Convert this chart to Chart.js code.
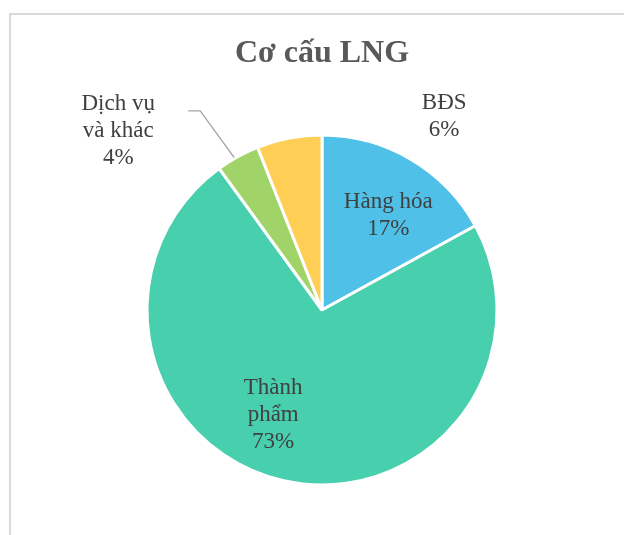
<!DOCTYPE html>
<html>
<head>
<meta charset="utf-8">
<script src="https://cdn.jsdelivr.net/npm/chart.js@4.4.1/dist/chart.umd.min.js"></script>
<style>
  html, body { margin: 0; padding: 0; background: #fff; }
  #wrap { width: 624px; height: 535px; position: relative; }
</style>
</head>
<body>
<div id="wrap"><canvas id="chart" width="624" height="535"></canvas></div>
<script>
const chartTitle = 'Cơ cấu LNG';
const categories = [['Hàng hóa'], ['Thành', 'phẩm'], ['Dịch vụ', 'và khác'], ['BĐS']];
const shares = [17, 73, 4, 6];
const sliceColors = ['#4FC1E9', '#48CFAD', '#A0D468', '#FFCE54'];

// where each label sits: angle in degrees from center, distance as fraction of radius
const labelPlace = [
  { angle: -55, dist: 0.66 },
  { angle: 115, dist: 0.66 },
  { angle: -138.7, dist: 1.55, leader: true },
  { angle: -57.8, dist: 1.31 },
];

const textColor = '#404040';

const decorPlugin = {
  id: 'decor',
  beforeDraw(chart) {
    const ctx = chart.ctx;
    ctx.save();
    ctx.fillStyle = '#fff';
    ctx.fillRect(0, 0, chart.width, chart.height);
    ctx.strokeStyle = '#D9D9D9';
    ctx.lineWidth = 2;
    ctx.beginPath();
    ctx.moveTo(10, chart.height);
    ctx.lineTo(10, 14);
    ctx.lineTo(chart.width, 14);
    ctx.stroke();

    ctx.fillStyle = '#595959';
    ctx.font = 'bold 32px "Liberation Serif", "Times New Roman", serif';
    ctx.textAlign = 'center';
    ctx.textBaseline = 'middle';
    ctx.fillText(chartTitle, 322, 54);
    ctx.restore();
  },
  afterDatasetsDraw(chart) {
    const ctx = chart.ctx;
    const meta = chart.getDatasetMeta(0);
    ctx.save();
    ctx.font = '23px "Liberation Serif", "Times New Roman", serif';
    ctx.fillStyle = textColor;
    ctx.textAlign = 'center';
    ctx.textBaseline = 'middle';
    meta.data.forEach((arc, i) => {
      const p = labelPlace[i];
      const a = p.angle * Math.PI / 180;
      const r = arc.outerRadius;
      const cx = arc.x + Math.cos(a) * r * p.dist;
      const cy = arc.y + Math.sin(a) * r * p.dist;
      const lines = categories[i].concat([shares[i] + '%']);
      const lh = 27;
      const y0 = cy - (lines.length - 1) * lh / 2;
      lines.forEach((t, k) => ctx.fillText(t, cx, y0 + k * lh));

      if (p.leader) {
        const mid = (arc.startAngle + arc.endAngle) / 2;
        const sx = arc.x + Math.cos(mid - 0.02) * (r + 1);
        const sy = arc.y + Math.sin(mid - 0.02) * (r + 1);
        const ly = y0 + 7;
        ctx.strokeStyle = '#A6A6A6';
        ctx.lineWidth = 1.3;
        ctx.beginPath();
        ctx.moveTo(sx, sy);
        ctx.lineTo(cx + 82, ly);
        ctx.lineTo(cx + 70, ly);
        ctx.stroke();
      }
    });
    ctx.restore();
  }
};

new Chart(document.getElementById('chart'), {
  type: 'pie',
  data: {
    labels: categories.map(c => c.join(' ')),
    datasets: [{
      data: shares,
      backgroundColor: sliceColors,
      borderColor: '#ffffff',
      borderWidth: 3,
    }]
  },
  options: {
    responsive: false,
    animation: false,
    layout: { padding: { left: 145.5, right: 125.5, top: 133.5, bottom: 48.5 } },
    plugins: {
      legend: { display: false },
      tooltip: { enabled: false },
      title: { display: false }
    }
  },
  plugins: [decorPlugin]
});
</script>
</body>
</html>
